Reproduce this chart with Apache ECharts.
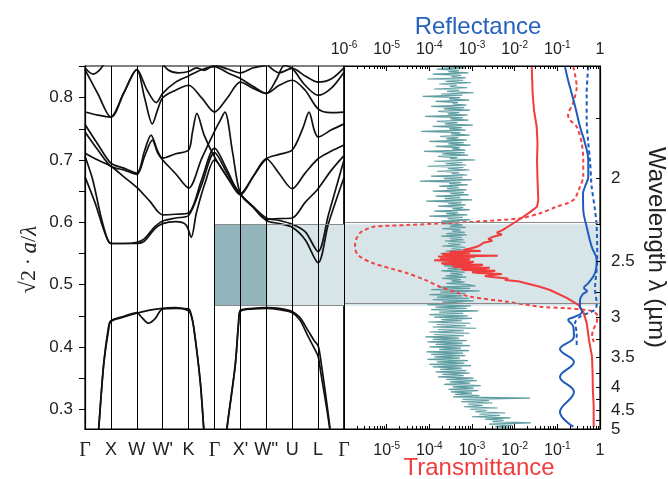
<!DOCTYPE html>
<html><head><meta charset="utf-8">
<script src="https://cdn.jsdelivr.net/npm/echarts@6/dist/echarts.min.js"></script>
<style>html,body{margin:0;padding:0;background:#fff}#c{width:668px;height:479px}</style>
</head><body><div id="c"></div>
<script>
// ---------- axis / label data ----------
const kLabels = ['Γ','X','W',"W'",'K','Γ',"X'","W''",'U','L','Γ'];
const freqLabels = [0.3,0.4,0.5,0.6,0.7,0.8];
const freqTicks = [0.3,0.35,0.4,0.45,0.5,0.55,0.6,0.65,0.7,0.75,0.8,0.85];
const wavelengthLabels = [2,2.5,3,3.5,4,4.5,5];
const wavelengthTicks = [1.75,2,2.25,2.5,2.75,3,3.25,3.5,3.75,4,4.25,4.5,4.75,5];
const SQRT2_A = 1.342;           // √2·a in µm (links wavelength to reduced frequency)
const freqMin = 0.2683, freqMax = 0.8509;
const gapLow = 0.4662, gapHigh = 0.5969;   // complete gap (light box)
const partialGapK = [5, 7];                 // dark part of the box

// ---------- band structure: [k, √2·a/λ] ----------
const band1 = [[0,0.0],[0.4,0.2],[0.53,0.269],[0.72,0.371],[0.91,0.427],[1,0.441],[1.5,0.448],[2,0.454],[2.5,0.459],[3,0.462],[3.5,0.463],[4,0.458],[4.1,0.45],[4.2,0.43],[4.45,0.344],[4.6,0.26],[4.75,0.18],[5,0.0],[5.25,0.18],[5.48,0.27],[5.8,0.371],[5.93,0.44],[6,0.459],[6.5,0.462],[7,0.463],[7.5,0.462],[8,0.457],[8.3,0.447],[8.63,0.425],[8.85,0.41],[9,0.402],[9.1,0.38],[9.46,0.269],[9.7,0.16],[10,0.0]];
const band2 = [[0,0.0],[0.4,0.2],[0.53,0.27],[0.72,0.372],[0.9,0.43],[1,0.442],[1.5,0.449],[2,0.455],[2.2,0.447],[2.45,0.438],[2.7,0.445],[3,0.461],[3.5,0.462],[4,0.461],[4.1,0.452],[4.2,0.432],[4.45,0.345],[4.6,0.26],[4.75,0.18],[5,0.0],[5.25,0.18],[5.48,0.268],[5.8,0.37],[5.93,0.438],[6,0.457],[6.5,0.461],[7,0.462],[7.5,0.46],[8,0.455],[8.3,0.443],[8.6,0.418],[8.85,0.398],[9,0.385],[9.1,0.36],[9.46,0.265],[9.7,0.16],[10,0.0]];
const band3 = [[0,0.673],[0.4,0.63],[0.75,0.585],[1,0.566],[1.5,0.566],[2,0.566],[2.3,0.570],[2.7,0.590],[3,0.598],[3.5,0.601],[3.9,0.596],[4.1,0.576],[4.3,0.615],[4.65,0.665],[5,0.700],[5.5,0.672],[6,0.645],[6.5,0.625],[7,0.607],[7.5,0.603],[8,0.597],[8.5,0.585],[9,0.553],[9.4,0.612],[10,0.700]];
const band4 = [[0,0.706],[0.3,0.668],[0.6,0.612],[0.85,0.575],[1,0.566],[1.5,0.566],[2,0.568],[2.3,0.574],[2.7,0.593],[3,0.602],[3.5,0.607],[4,0.611],[4.5,0.66],[5,0.712],[5.5,0.678],[6,0.645],[6.5,0.624],[7,0.603],[7.5,0.598],[8,0.592],[8.5,0.572],[9,0.535],[9.4,0.598],[10,0.672]];
const band5 = [[0,0.711],[0.5,0.700],[1,0.690],[1.5,0.673],[2,0.656],[2.5,0.634],[3,0.612],[3.5,0.613],[4,0.615],[4.5,0.668],[5,0.719],[5.5,0.683],[6,0.646],[6.5,0.674],[7,0.702],[7.5,0.709],[8,0.716],[8.4,0.75],[8.65,0.777],[8.85,0.748],[9,0.737],[9.5,0.748],[10,0.758]];
const band6 = [[0,0.745],[0.5,0.716],[1,0.690],[1.5,0.684],[2,0.677],[2.3,0.706],[2.6,0.732],[2.8,0.712],[3,0.700],[3.5,0.678],[4,0.655],[4.5,0.702],[5,0.746],[5.2,0.762],[5.4,0.777],[5.7,0.712],[6,0.646],[6.5,0.624],[7,0.605],[7.5,0.606],[8,0.607],[8.5,0.632],[9,0.654],[9.5,0.683],[10,0.707]];
const band7 = [[0,0.757],[0.5,0.725],[1,0.695],[1.5,0.687],[2,0.679],[2.3,0.715],[2.55,0.740],[2.8,0.715],[3,0.703],[3.5,0.71],[4,0.716],[4.15,0.745],[4.32,0.775],[4.6,0.74],[5,0.705],[5.5,0.672],[6,0.644],[6.5,0.674],[7,0.702],[7.5,0.678],[8,0.654],[8.5,0.679],[9,0.702],[9.5,0.714],[10,0.724]];
const band8 = [[0,0.777],[0.5,0.772],[1,0.769],[1.5,0.808],[2,0.845],[2.3,0.80],[2.6,0.758],[2.8,0.78],[3,0.80],[3.5,0.812],[4,0.82],[4.5,0.80],[5,0.777],[5.5,0.80],[6,0.825],[6.5,0.815],[7,0.807],[7.5,0.82],[8,0.828],[8.5,0.812],[9,0.782],[9.5,0.776],[10,0.777]];
const band9 = [[0,0.845],[0.5,0.806],[1,0.769],[1.5,0.808],[2,0.845],[2.4,0.812],[2.75,0.792],[3,0.807],[3.5,0.825],[4,0.835],[4.5,0.845],[5,0.85],[5.5,0.84],[6,0.831],[6.5,0.818],[7,0.807],[7.4,0.83],[7.7,0.852],[8,0.847],[8.5,0.82],[9,0.804],[9.5,0.815],[10,0.841]];
const band10 = [[0,0.848],[0.3,0.838],[0.55,0.844],[0.8,0.858]];
const band11 = [[2.9,0.86],[3.2,0.845],[3.6,0.84],[4,0.842],[4.3,0.848],[4.6,0.844],[5,0.852],[5.5,0.846],[6,0.84],[6.5,0.848],[7,0.852]];
const band12 = [[7,0.855],[7.5,0.84],[8,0.847],[8.5,0.835],[9,0.825],[9.5,0.83],[10,0.848]];
const bands = [band1,band2,band3,band4,band5,band6,band7,band8,band9,band10,band11,band12];

// ---------- spectra: [wavelength µm, value] ----------
const transMeasured = [[1.579,0.0251],[1.662,0.0264],[1.721,0.0284],[1.781,0.0328],[1.846,0.0343],[1.917,0.0334],[2.009,0.0343],[2.111,0.0358],[2.147,0.0334],[2.177,0.0229],[2.204,0.0159],[2.242,0.0093],[2.283,0.0053],[2.300,0.0038],[2.312,0.0050],[2.326,0.00316],[2.340,0.0024],[2.352,0.0030],[2.368,0.00181],[2.380,0.0016],[2.393,0.00129],[2.405,0.0009],[2.415,6.25e-4],[2.422,1.6e-3],[2.428,3.0e-4],[2.436,8.97e-4],[2.442,2.0e-4],[2.451,2.33e-4],[2.456,4.0e-3],[2.461,1.6e-4],[2.465,1.18e-3],[2.470,3.0e-4],[2.476,1.78e-4],[2.481,9.0e-4],[2.487,6.9e-4],[2.490,1.3e-4],[2.494,1.36e-4],[2.500,1.1e-3],[2.506,9.0e-4],[2.511,1.9e-4],[2.517,2.3e-4],[2.523,1.8e-3],[2.529,1.54e-3],[2.535,3.5e-4],[2.540,4.0e-4],[2.546,2.6e-3],[2.552,2.0e-3],[2.558,5.5e-4],[2.564,6.9e-4],[2.570,3.5e-3],[2.575,2.9e-3],[2.581,1.0e-3],[2.587,1.4e-3],[2.595,5.0e-3],[2.603,4.5e-3],[2.611,2.0e-3],[2.620,2.9e-3],[2.632,7.0e-3],[2.644,5.9e-3],[2.655,1.2e-2],[2.670,1.75e-2],[2.702,0.039],[2.731,0.0673],[2.804,0.166],[2.871,0.31],[2.939,0.405],[3.060,0.487],[3.264,0.552],[3.491,0.649],[3.745,0.67],[4.054,0.68],[4.373,0.71],[4.941,0.71]];
const transCalc = [[1.579,0.237],[1.641,0.284],[1.696,0.233],[1.738,0.178],[1.756,0.198],[1.781,0.284],[1.845,0.372],[1.917,0.405],[1.993,0.405],[2.042,0.34],[2.111,0.237],[2.150,0.09],[2.184,0.039],[2.213,0.0133],[2.233,1.07e-3],[2.253,2.95e-5],[2.263,4.9e-6],[2.283,3.1e-6],[2.302,2.37e-6],[2.347,1.9e-6],[2.393,1.81e-6],[2.451,2.13e-6],[2.512,4.86e-6],[2.587,2.95e-5],[2.644,7.9e-5],[2.702,1.78e-4],[2.749,4.0e-4],[2.792,9.0e-4],[2.839,6.5e-3],[2.888,0.0393],[2.904,0.166],[2.922,0.487],[2.939,0.72],[2.984,0.86],[3.060,0.83],[3.141,0.69],[3.222,0.65],[3.289,0.72]];
const reflMeasured = [[1.579,0.151],[1.620,0.178],[1.663,0.217],[1.720,0.274],[1.781,0.34],[1.846,0.445],[1.917,0.531],[1.993,0.531],[2.042,0.445],[2.076,0.40],[2.165,0.405],[2.263,0.487],[2.393,0.638],[2.487,0.836],[2.587,0.764],[2.672,0.531],[2.713,0.42],[2.740,0.50],[2.767,0.40],[2.823,0.34],[2.888,0.34],[2.939,0.38],[2.992,0.26],[3.027,0.18],[3.103,0.237],[3.222,0.245],[3.383,0.115],[3.570,0.245],[3.815,0.115],[4.094,0.245],[4.538,0.115],[4.934,0.237]];
const reflCalc = [[1.579,0.531],[1.663,0.487],[1.756,0.487],[1.845,0.531],[1.917,0.582],[2.042,0.638],[2.165,0.764],[2.263,0.836],[2.487,0.86],[2.731,0.764],[2.852,0.836],[2.904,0.81],[2.939,0.638],[2.992,0.34],[3.060,0.26],[3.177,0.284],[3.351,0.284]];
// noisy teal trace (values in units of 1e-4), sampled on a reduced-frequency grid 0.850 → 0.270
const tealFreqTop = 0.85, tealFreqStep = 0.002, tealUnit = 1e-4;
const tealValues = [
2.1,6.8,1.5,4.9,2.8,8.2,1.2,5.6,3.3,7.1,0.9,6.2,2.4,9.5,1.7,4.4,3.0,7.8,1.3,5.1,
2.6,11,1.9,6.0,0.7,5.3,2.9,8.6,1.4,4.7,3.5,7.4,1.1,6.6,2.2,9.0,1.6,5.0,2.7,7.9,
0.8,6.1,3.1,8.3,1.5,4.6,2.3,10.5,1.2,5.8,2.9,7.2,0.65,5.4,3.2,8.8,1.8,4.8,2.5,7.6,
1.0,6.4,2.8,9.3,1.4,5.2,3.4,7.0,0.75,6.7,2.0,8.1,1.6,4.5,3.0,12,1.3,5.9,2.4,7.3,
0.9,6.3,2.7,8.7,1.5,5.0,3.3,7.7,1.1,6.0,2.2,9.8,0.6,5.5,2.9,8.0,1.7,4.9,2.6,7.5,
1.2,6.5,3.1,8.4,1.4,5.3,2.3,10,0.85,5.7,2.8,7.1,1.6,6.2,3.5,8.9,1.3,4.7,2.5,7.8,
1.0,6.1,2.7,9.1,1.9,5.6,
2.2,6.0,3.0,7.2,2.0,5.4,3.4,6.8,2.5,7.5,1.9,5.8,3.1,6.4,2.3,7.0,2.8,5.5,2.0,6.9,
3.3,6.1,2.4,7.4,1.8,5.7,3.0,6.6,2.6,7.1,2.1,5.9,3.2,6.3,2.2,7.6,2.7,5.6,1.9,6.8,
3.1,6.0,2.4,7.3,2.0,5.5,3.3,6.7,2.5,8.0,
12,1.6,9.0,1.1,15,1.8,7.0,1.0,6.0,1.5,8.5,1.2,11,2.0,6.5,0.9,9.5,1.4,7.5,1.1,
14,1.7,6.2,1.0,8.0,1.3,10,1.9,5.8,0.95,9.2,1.5,7.2,1.2,12.5,1.6,6.4,1.0,8.8,1.3,
6.5,0.8,5.0,1.2,7.5,0.9,6.0,1.4,9.0,1.0,5.5,1.7,8.5,0.85,6.2,1.1,7.0,1.3,5.2,0.9,
8.0,1.5,6.6,1.0,9.5,1.2,5.8,1.8,7.4,1.4,8.8,2.0,6.4,1.6,11,
2.5,13,3.0,9.0,2.2,16,3.5,11,2.8,14,3.2,10,4.0,15,3.6,
230,6.0,25,5.5,30,8.0,18,6.5,40,9.0,
22,12,60,15,45,10,80,20,55,30,240,25,90,35,70];

// ---------- helpers (unit conversion only) ----------
const toFreq = arr => arr.map(p => [p[1], SQRT2_A / p[0]]);
const tealData = tealValues.map((v, i) => [v * tealUnit, +(tealFreqTop - i * tealFreqStep).toFixed(4)]);
const minorExps = [];
for (let d = -6; d < 0; d++) for (let m = 2; m <= 9; m++) minorExps.push(d + Math.log10(m));

const FONT = 'Liberation Sans, Arial, sans-serif';
const SERIF = 'Liberation Serif, DejaVu Serif, serif';
const TXT = '#222';
const logRich = { b:{fontSize:16,color:TXT,lineHeight:20,fontFamily:FONT}, s:{fontSize:10,color:TXT,lineHeight:10,verticalAlign:'top',fontFamily:FONT} };
const logFmt = v => { const e = Math.round(Math.log10(v)); return e === 0 ? '{b|1}' : '{b|10}{s|' + e + '}'; };

const chart = echarts.init(document.getElementById('c'), null, {renderer:'canvas'});
const series = [];
series.push({
  type:'line', xAxisIndex:0, yAxisIndex:0, data:[], z:1, silent:true,
  markArea:{ silent:true, data:[
    [{xAxis:5, yAxis:gapLow, itemStyle:{color:'#d7e5e8'}},{xAxis:10, yAxis:gapHigh}],
    [{xAxis:partialGapK[0], yAxis:gapLow, itemStyle:{color:'#92b6bb'}},{xAxis:partialGapK[1], yAxis:gapHigh}]
  ]},
  markLine:{ silent:true, symbol:['none','none'], label:{show:false}, lineStyle:{color:'#8a8a8a',width:1,type:'solid'},
    data:[[{coord:[5,gapHigh]},{coord:[10,gapHigh]}],[{coord:[5,gapLow]},{coord:[10,gapLow]}]] }
});
bands.forEach(b => series.push({
  type:'line', xAxisIndex:0, yAxisIndex:0, data:b, showSymbol:false, smooth:0.3, z:3, silent:true,
  lineStyle:{color:'#111', width:1.7}
}));
series.push({
  type:'line', xAxisIndex:1, yAxisIndex:1, data:[], z:1, silent:true,
  markArea:{ silent:true, data:[[{xAxis:1e-6, yAxis:gapLow, itemStyle:{color:'#d7e5e8'}},{xAxis:1, yAxis:gapHigh}]] },
  markLine:{ silent:true, symbol:['none','none'], label:{show:false}, lineStyle:{color:'#8a8a8a',width:1,type:'solid'},
    data:[{yAxis:gapHigh},{yAxis:gapLow}] }
});
series.push({ type:'line', xAxisIndex:1, yAxisIndex:1, data:tealData, showSymbol:false, z:3, silent:true, lineStyle:{color:'#5f9ea2', width:1.2} });
series.push({ type:'line', xAxisIndex:1, yAxisIndex:1, data:toFreq(transCalc), showSymbol:false, smooth:0.3, z:4, silent:true, lineStyle:{color:'#f04545', width:2, type:[4,3]} });
series.push({ type:'line', xAxisIndex:1, yAxisIndex:1, data:toFreq(reflCalc), showSymbol:false, smooth:0.3, z:4, silent:true, lineStyle:{color:'#1f5cbf', width:2, type:[4,3]} });
series.push({ type:'line', xAxisIndex:1, yAxisIndex:1, data:toFreq(transMeasured), showSymbol:false, z:5, silent:true, lineStyle:{color:'#f03c3c', width:2} });
series.push({ type:'line', xAxisIndex:1, yAxisIndex:1, data:toFreq(reflMeasured), showSymbol:false, smooth:0.4, z:5, silent:true, lineStyle:{color:'#1f5cbf', width:2} });

const option = {
  animation:false,
  textStyle:{fontFamily:FONT},
  grid:[
    {left:85, top:66, width:259, height:363, show:true, borderColor:'#000', borderWidth:1.2, outerBoundsMode:'none', containLabel:false},
    {left:344, top:66, width:256, height:363, show:true, borderColor:'#000', borderWidth:1.2, outerBoundsMode:'none', containLabel:false}
  ],
  xAxis:[
    { type:'value', gridIndex:0, min:0, max:10, interval:1, z:10,
      axisLine:{lineStyle:{color:'#000',width:1.2}}, axisTick:{show:false},
      splitLine:{show:true, lineStyle:{color:'#000', width:1}},
      axisLabel:{margin:12, color:TXT, fontSize:18, formatter:v => { const s = kLabels[Math.round(v)]; return s === 'Γ' ? '{g|Γ}' : '{n|' + s + '}'; },
        rich:{g:{fontFamily:SERIF,fontSize:20,color:TXT}, n:{fontFamily:FONT,fontSize:18,color:TXT}}} },
    { type:'log', gridIndex:1, position:'top', min:1e-6, max:1, logBase:10, interval:1, z:10,
      name:'Reflectance', nameLocation:'middle', nameGap:27, nameMoveOverlap:false,
      nameTextStyle:{color:'#2462bd', fontSize:24, fontFamily:FONT, padding:[0,0,0,12]},
      axisLine:{lineStyle:{color:'#000',width:1.2}}, axisTick:{inside:true, length:5, lineStyle:{color:'#000'}},
      splitLine:{show:false}, minorTick:{show:false},
      axisLabel:{margin:6, formatter:logFmt, rich:logRich} },
    { type:'log', gridIndex:1, position:'bottom', min:1e-6, max:1, logBase:10, interval:1, z:10,
      name:'Transmittance', nameLocation:'middle', nameGap:27, nameMoveOverlap:false,
      nameTextStyle:{color:'#f03c3c', fontSize:24, fontFamily:FONT, padding:[0,0,0,14]},
      axisLine:{lineStyle:{color:'#000',width:1.2}}, axisTick:{inside:true, length:5, lineStyle:{color:'#000'}},
      splitLine:{show:false}, minorTick:{show:false},
      axisLabel:{margin:12, showMinLabel:false, formatter:logFmt, rich:logRich} },
    { type:'value', gridIndex:1, position:'top', min:-6, max:0, z:10,
      axisLine:{show:false}, axisLabel:{show:false}, splitLine:{show:false},
      axisTick:{show:true, inside:true, length:3, customValues:minorExps, lineStyle:{color:'#000'}} },
    { type:'value', gridIndex:1, position:'bottom', min:-6, max:0, z:10,
      axisLine:{show:false}, axisLabel:{show:false}, splitLine:{show:false},
      axisTick:{show:true, inside:true, length:3, customValues:minorExps, lineStyle:{color:'#000'}} }
  ],
  yAxis:[
    { type:'value', gridIndex:0, min:freqMin, max:freqMax, z:10,
      name:'{r|√2}{d| · }{i|a}{r|/}{i|λ}', nameLocation:'middle', nameGap:44,
      nameTextStyle:{padding:[0,24,0,0], rich:{r:{fontSize:22,fontFamily:SERIF,color:TXT}, d:{fontSize:20,fontFamily:SERIF,color:TXT}, i:{fontSize:23,fontFamily:SERIF,fontStyle:'italic',color:TXT}}},
      axisLine:{show:true, lineStyle:{color:'#000',width:1.2}},
      axisTick:{show:true, length:6, customValues:freqTicks, lineStyle:{color:'#000'}},
      splitLine:{show:false},
      axisLabel:{margin:12, color:TXT, fontSize:17, customValues:freqLabels, formatter:v => v.toFixed(1)} },
    { type:'value', gridIndex:1, position:'right', min:freqMin, max:freqMax, z:10,
      name:'Wavelength λ (µm)', nameLocation:'middle', nameGap:44, nameRotate:-90,
      nameTextStyle:{fontSize:24, color:TXT, fontFamily:FONT},
      axisLine:{show:true, lineStyle:{color:'#000',width:1.2}},
      axisTick:{show:true, inside:true, length:4, customValues:wavelengthTicks.map(l => SQRT2_A / l), lineStyle:{color:'#000'}},
      splitLine:{show:false},
      axisLabel:{margin:11, color:TXT, fontSize:17, customValues:wavelengthLabels.map(l => SQRT2_A / l),
        formatter:v => String(Math.round(SQRT2_A / v * 10) / 10)} }
  ],
  series:series
};
chart.setOption(option);
</script></body></html>
